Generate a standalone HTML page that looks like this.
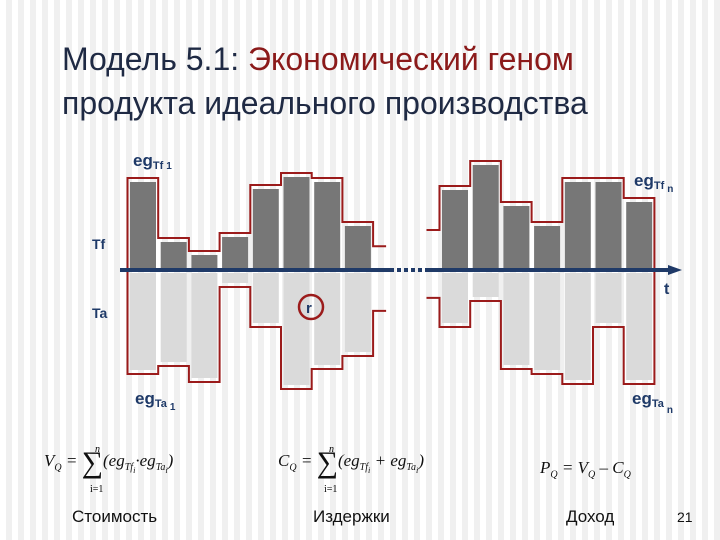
<!DOCTYPE html>
<html><head><meta charset="utf-8"><style>
body{margin:0;}
#slide{position:relative;width:720px;height:540px;overflow:hidden;font-family:"Liberation Sans",sans-serif;
background:repeating-linear-gradient(90deg,#ffffff 0px,#ffffff 6px,#f0f0f0 6px,#f0f0f0 12px);}
.t{position:absolute;white-space:nowrap;}
</style></head><body>
<div id="slide">
<div class="t" style="left:62px;top:41px;font-size:32px;color:#1f2a44;">Модель 5.1: <span style="color:#8b1a1a">Экономический геном</span></div>
<div class="t" style="left:62px;top:85px;font-size:32px;color:#1f2a44;">продукта идеального производства</div>
<svg id="chart" width="720" height="540" style="position:absolute;left:0;top:0" font-family="Liberation Sans, sans-serif"></svg>
<div class="t" style="left:44px;top:446px;font-family:'Liberation Serif',serif;font-style:italic;font-size:17px;color:#111;">V<sub style="font-size:10px">Q</sub> = <span style="font-style:normal;font-size:30px;vertical-align:-6px">∑</span>(eg<sub style="font-size:10px">Tf<sub>i</sub></sub>·eg<sub style="font-size:10px">Ta<sub>i</sub></sub>)</div>
<div class="t" style="left:278px;top:446px;font-family:'Liberation Serif',serif;font-style:italic;font-size:17px;color:#111;">C<sub style="font-size:10px">Q</sub> = <span style="font-style:normal;font-size:30px;vertical-align:-6px">∑</span>(eg<sub style="font-size:10px">Tf<sub>i</sub></sub> + eg<sub style="font-size:10px">Ta<sub>i</sub></sub>)</div>
<div class="t" style="left:540px;top:458px;font-family:'Liberation Serif',serif;font-style:italic;font-size:17px;color:#111;">P<sub style="font-size:10px">Q</sub> = V<sub style="font-size:10px">Q</sub> – C<sub style="font-size:10px">Q</sub></div>
<div class="t" style="left:95px;top:444px;font-family:'Liberation Serif',serif;font-style:italic;font-size:10px">n</div>
<div class="t" style="left:90px;top:484px;font-family:'Liberation Serif',serif;font-size:10px">i=1</div>
<div class="t" style="left:329px;top:444px;font-family:'Liberation Serif',serif;font-style:italic;font-size:10px">n</div>
<div class="t" style="left:324px;top:484px;font-family:'Liberation Serif',serif;font-size:10px">i=1</div>
<div class="t" style="left:72px;top:507px;font-size:17px;color:#111;">Стоимость</div>
<div class="t" style="left:313px;top:507px;font-size:17px;color:#111;">Издержки</div>
<div class="t" style="left:566px;top:507px;font-size:17px;color:#111;">Доход</div>
<div class="t" style="left:677px;top:509px;font-size:14px;color:#111;">21</div>
</div>
<script>
const tfLeft=[88,28,15,33,81,93,88,44];
const taLeft=[100,92,108,13,53,115,95,82];
const tfRight=[80,105,64,44,88,88,68];
const taRight=[53,27,95,100,110,53,110];
const NS="http://www.w3.org/2000/svg";
const svg=document.getElementById('chart');
const axisY=270, barW=26, pitch=30.7;
function yUp(v){return axisY-v;}
function yDn(v){return axisY+v;}
function mk(tag,attrs){const e=document.createElementNS(NS,tag);for(const k in attrs)e.setAttribute(k,attrs[k]);svg.appendChild(e);return e;}
function group(x0,tf,ta,leftStub,rightStub,gname){
  tf.forEach((v,i)=>{
    const x=x0+i*pitch;
    const b=mk('rect',{x:x,y:axisY+3,width:barW,height:ta[i]-3,fill:'#dadada'});
    
    
    const a=mk('rect',{x:x,y:yUp(v),width:barW,height:v-2,fill:'#777777'});
    
    
  });
  const n=tf.length;
  const edge=i=>x0+i*pitch-2.5;
  ['tf','ta'].forEach(k=>{
    const arr=k==='tf'?tf:ta, f=k==='tf'?(v=>yUp(v+4)):(v=>yDn(v+4));
    let d='';
    if(leftStub){d='M'+(edge(0)-13)+' '+f(arr[0]*0.45)+' H'+edge(0)+' V'+f(arr[0]);}
    else d='M'+edge(0)+' '+axisY+' V'+f(arr[0]);
    for(let i=0;i<n;i++){d+=' H'+edge(i+1);if(i<n-1)d+=' V'+f(arr[i+1]);}
    if(rightStub){d+=' V'+f(arr[n-1]*0.45)+' H'+(edge(n)+13);}
    else d+=' V'+axisY;
    const p=mk('path',{d:d,fill:'none',stroke:'#9b1b1b','stroke-width':2});
    
    
  });
}
group(130,tfLeft,taLeft,false,true,'left');
group(442,tfRight,taRight,true,false,'right');
let e;
e=mk('line',{x1:120,y1:axisY,x2:390,y2:axisY,stroke:'#1f3a68','stroke-width':4});

e=mk('line',{x1:390,y1:axisY,x2:425,y2:axisY,stroke:'#1f3a68','stroke-width':4,'stroke-dasharray':'4 3'});

e=mk('line',{x1:425,y1:axisY,x2:672,y2:axisY,stroke:'#1f3a68','stroke-width':4});

e=mk('polygon',{points:'668,265 682,270 668,275',fill:'#1f3a68'});

e=mk('circle',{cx:311,cy:307,r:12,fill:'none',stroke:'#9b1b1b','stroke-width':2.5});

function txt(x,y,s,name,size){const t=mk('text',{x:x,y:y,fill:'#1f3a68','font-weight':'bold','font-size':size||15});t.innerHTML=s;
return t;}
txt(306,313,'r','r-label',15);
txt(664,294,'t','t-axis-label',16);
txt(92,249,'Tf','tf-axis-label',14);
txt(92,318,'Ta','ta-axis-label',14);
txt(133,166,'eg<tspan font-size="11" dy="3">Tf</tspan><tspan font-size="10" dx="3">1</tspan>','eg-tf-1',17);
txt(634,186,'eg<tspan font-size="11" dy="3">Tf</tspan><tspan font-size="10" dx="3" dy="3">n</tspan>','eg-tf-n',17);
txt(135,404,'eg<tspan font-size="11" dy="3">Ta</tspan><tspan font-size="10" dx="3" dy="3">1</tspan>','eg-ta-1',17);
txt(632,404,'eg<tspan font-size="11" dy="3">Ta</tspan><tspan font-size="10" dx="3" dy="6">n</tspan>','eg-ta-n',17);
</script>
</body></html>
